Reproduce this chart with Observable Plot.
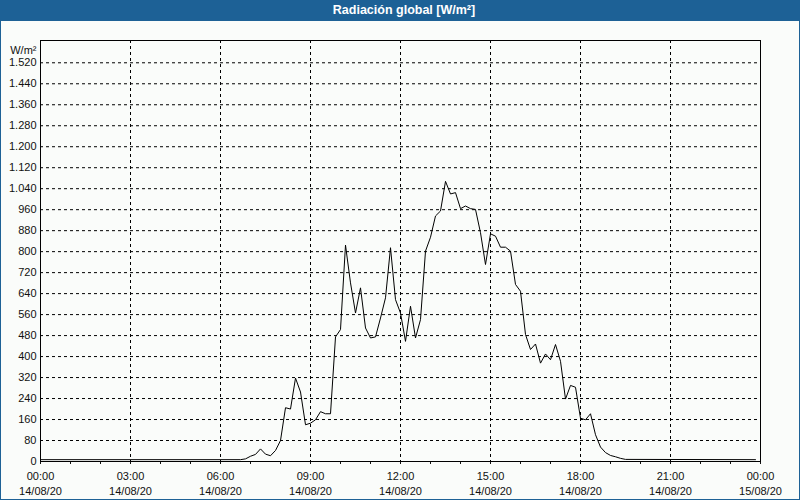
<!DOCTYPE html>
<html>
<head>
<meta charset="utf-8">
<script src="https://cdn.jsdelivr.net/npm/d3@7"></script>
<script src="https://cdn.jsdelivr.net/npm/@observablehq/plot@0.6"></script>
<style>
  html, body { margin: 0; padding: 0; background: #fafcfa; }
  #wrap { position: relative; width: 800px; height: 500px; overflow: hidden; background: #fafcfa; font-family: "Liberation Sans", Arial, sans-serif; }
  #title { height: 21px; line-height: 21px; background: #1d6196; color: #fff; font-weight: bold; font-size: 12.5px; text-align: center; padding-left: 8px; box-sizing: border-box; }
  #border { position: absolute; inset: 0; border: 1px solid #1d6196; border-top: none; pointer-events: none; }
  svg { display: block; }
</style>
</head>
<body>
<div id="wrap">
  <div id="title">Radiación global [W/m²]</div>
  <div id="chart"></div>
  <div id="border"></div>
</div>
<script>
// Times (14/08/20, 10-minute samples where the curve moves) and global radiation values, W/m²
const times = [
  "00:00","06:40","06:50","07:00","07:10","07:20","07:30","07:40","07:50","08:00",
  "08:10","08:20","08:30","08:40","08:50","09:00","09:10","09:20","09:30","09:40",
  "09:50","10:00","10:10","10:20","10:30","10:40","10:50","11:00","11:10","11:20",
  "11:30","11:40","11:50","12:00","12:10","12:20","12:30","12:40","12:50","13:00",
  "13:10","13:20","13:30","13:40","13:50","14:00","14:10","14:20","14:30","14:40",
  "14:50","15:00","15:10","15:20","15:30","15:40","15:50","16:00","16:10","16:20",
  "16:30","16:40","16:50","17:00","17:10","17:20","17:30","17:40","17:50","18:00",
  "18:10","18:20","18:30","18:40","18:50","19:00","19:10","19:20","19:30","23:50"
];
const values = [
  7, 7, 10, 20, 27, 48, 28, 22, 42, 80,
  205, 200, 318, 265, 140, 146, 159, 190, 182, 182,
  475, 503, 825, 681, 566, 662, 509, 471, 475, 547,
  624, 815, 617, 566, 458, 592, 471, 541, 802, 855,
  936, 955, 1068, 1020, 1025, 964, 974, 964, 961, 872,
  751, 868, 859, 817, 817, 802, 675, 649, 484, 427,
  448, 375, 410, 388, 446, 382, 238, 290, 283, 165,
  159, 182, 102, 55, 34, 23, 18, 12, 8, 7
];
const day = "2020-08-14";
const yTicks = [0, 80, 160, 240, 320, 400, 480, 560, 640, 720, 800, 880, 960, 1040, 1120, 1200, 1280, 1360, 1440, 1520];
const xStart = "2020-08-14T00:00Z";
const xEnd = "2020-08-15T00:00Z";

const data = times.map((t, i) => ({ time: new Date(`${day}T${t}Z`), value: values[i] }));
const start = new Date(xStart), end = new Date(xEnd);
const hourTicks = d3.utcHour.range(start, new Date(+end + 1));
const labelTicks = d3.utcHour.every(3).range(start, new Date(+end + 1));
const innerGrid = labelTicks.slice(1, -1);
const es = d3.formatLocale({ decimal: ",", thousands: ".", grouping: [3], currency: ["", ""] });
const fmtY = es.format(",");
const fmtX = d3.utcFormat("%H:%M\n%d/%m/%y");

const chart = Plot.plot({
  width: 800,
  height: 479,
  marginTop: 19,
  marginBottom: 39,
  marginLeft: 40,
  marginRight: 40,
  style: { fontFamily: "Liberation Sans, Arial, sans-serif", fontSize: "11px", background: "#fafcfa", color: "#111" },
  x: { type: "utc", domain: [start, end] },
  y: { domain: [0, 1605] },
  marks: [
    Plot.gridY(yTicks.filter(d => d > 0), { stroke: "#000", strokeOpacity: 1, strokeDasharray: "3,3" }),
    Plot.gridX(innerGrid, { stroke: "#000", strokeOpacity: 1, strokeDasharray: "3,3" }),
    Plot.axisY({ ticks: yTicks, tickSize: 0, tickPadding: 4, tickFormat: fmtY, label: null }),
    Plot.axisX({ ticks: hourTicks, tickSize: 3, tickFormat: () => "", label: null }),
    Plot.axisX({ ticks: labelTicks, tickSize: 0, tickPadding: 8, tickFormat: fmtX, lineHeight: 1.36, label: null }),
    Plot.text(["W/m²"], { frameAnchor: "top-left", dx: -4, dy: 6, textAnchor: "end" }),
    Plot.line(data, { x: "time", y: "value", stroke: "#000", strokeWidth: 1 }),
    Plot.frame({ stroke: "#000" })
  ]
});
document.getElementById("chart").appendChild(chart);
</script>
</body>
</html>
